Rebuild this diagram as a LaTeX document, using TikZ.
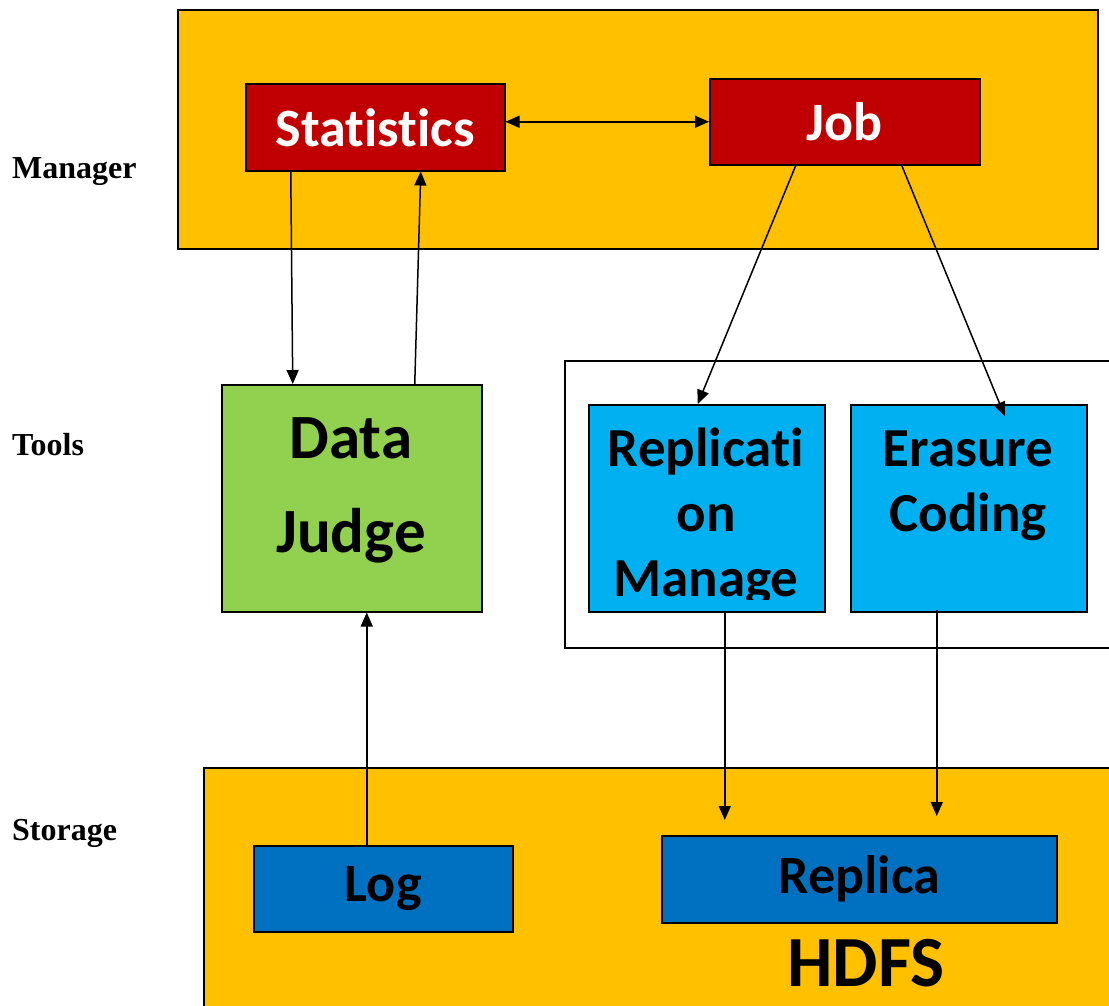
\documentclass[tikz,border=0pt]{standalone}
\usepackage{fontspec}
\setmainfont{Carlito}[Ligatures=NoCommon]
\newfontfamily\tierfont{Liberation Serif}
\usetikzlibrary{arrows.meta}
\definecolor{amber}{HTML}{FFC000}
\definecolor{crimson}{HTML}{C00000}
\definecolor{leafgreen}{HTML}{92D050}
\definecolor{skyblue}{HTML}{00B0F0}
\definecolor{deepblue}{HTML}{0070C0}

\begin{document}
\begin{tikzpicture}[x=1pt,y=-1pt,
  panel/.style={draw=black, line width=1.5pt},
  box/.style={draw=black, line width=1.5pt, anchor=north west, inner sep=0pt,
    font=\bfseries},
  boxtext/.style={anchor=base, inner sep=0pt, font=\bfseries\fontsize{55}{65}\selectfont},
  arr/.style={line width=1.5pt, -{Triangle[length=14pt,width=12pt]}},
  tier/.style={anchor=base west, inner sep=0pt,
    font=\tierfont\bfseries\fontsize{32}{36}\selectfont}
]
\useasboundingbox (0,0) rectangle (1109,1005);
\begin{scope}
\clip (0,0) rectangle (1109,1005);

% layer panels
\fill[amber] (178,10) rectangle (1098,249);
\draw[panel] (178,10) rectangle (1098,249);
\draw[panel, fill=white] (565,361) rectangle (1130,648);
\fill[amber] (204,768) rectangle (1130,1020);
\draw[panel] (1130,768) -- (204,768) -- (204,1020);

% tier labels
\node[tier] (lman) at (12,178) {Manager};
\node[tier] (ltool) at (12,455) {Tools};
\node[tier] (lsto) at (12,840) {Storage};

% manager components
\node[box, fill=crimson, text=white, minimum width=259, minimum height=87,
  font=\bfseries\fontsize{54}{60}\selectfont] (stat) at (245,83) {Statistics};
\node[box, fill=crimson, text=white, minimum width=270, minimum height=86,
  font=\bfseries\fontsize{54}{60}\selectfont] (job) at (709,78) {Job};

% tools
\node[box, fill=leafgreen, minimum width=260, minimum height=227] (judge) at (221,384) {};
\node[boxtext, font=\bfseries\fontsize{63}{94}\selectfont] (judgeA) at (351,458) {Data};
\node[boxtext, font=\bfseries\fontsize{63}{94}\selectfont] (judgeB) at (351,552) {Judge};
\node[box, fill=skyblue, minimum width=236, minimum height=207] (rep) at (588,404) {};
\node[box, fill=skyblue, minimum width=236, minimum height=207] (er) at (850,404) {};
\begin{scope}
  \clip (589,405) rectangle (823,599);
  \node[boxtext] (repA) at (706,466) {Replicati};
  \node[boxtext] (repB) at (706,531) {on};
  \node[boxtext] (repC) at (706,596) {Manage};
\end{scope}
\node[boxtext] (erA) at (968,466) {Erasure};
\node[boxtext] (erB) at (968,531) {Coding};

% storage
\node[box, fill=deepblue, minimum width=259, minimum height=86,
  font=\bfseries\fontsize{54}{60}\selectfont] (log) at (253,845) {Log};
\node[box, fill=deepblue, minimum width=395, minimum height=87,
  font=\bfseries\fontsize{54}{60}\selectfont] (replica) at (661,835) {Replica};
\node[anchor=base, inner sep=0pt, font=\bfseries\fontsize{72}{80}\selectfont]
  (hdfs) at (866,986) {HDFS};

% connectors
\draw[arr, {Triangle[length=14pt,width=12pt]}-{Triangle[length=14pt,width=12pt]}]
  ([yshift=5.5]stat.east) -- (job.west);
\draw[arr] ([xshift=-84.5]stat.south) -- ([xshift=-59]judge.north);
\draw[arr] ([xshift=63]judge.north) -- ([xshift=45.5]stat.south);
\draw[arr] ([xshift=-49]job.south) -- ([xshift=-9]rep.north);
\draw[arr] ([xshift=57]job.south) -- ([xshift=36,yshift=-12]er.north);
\draw[arr] ([xshift=18]rep.south) -- ([xshift=-134.5,yshift=15]replica.north);
\draw[arr] ([xshift=-32,yshift=3]er.south) -- ([xshift=77.5,yshift=19]replica.north);
\draw[arr] ([xshift=-16.5]log.north) -- ([xshift=15]judge.south);
\end{scope}
\end{tikzpicture}
\end{document}
